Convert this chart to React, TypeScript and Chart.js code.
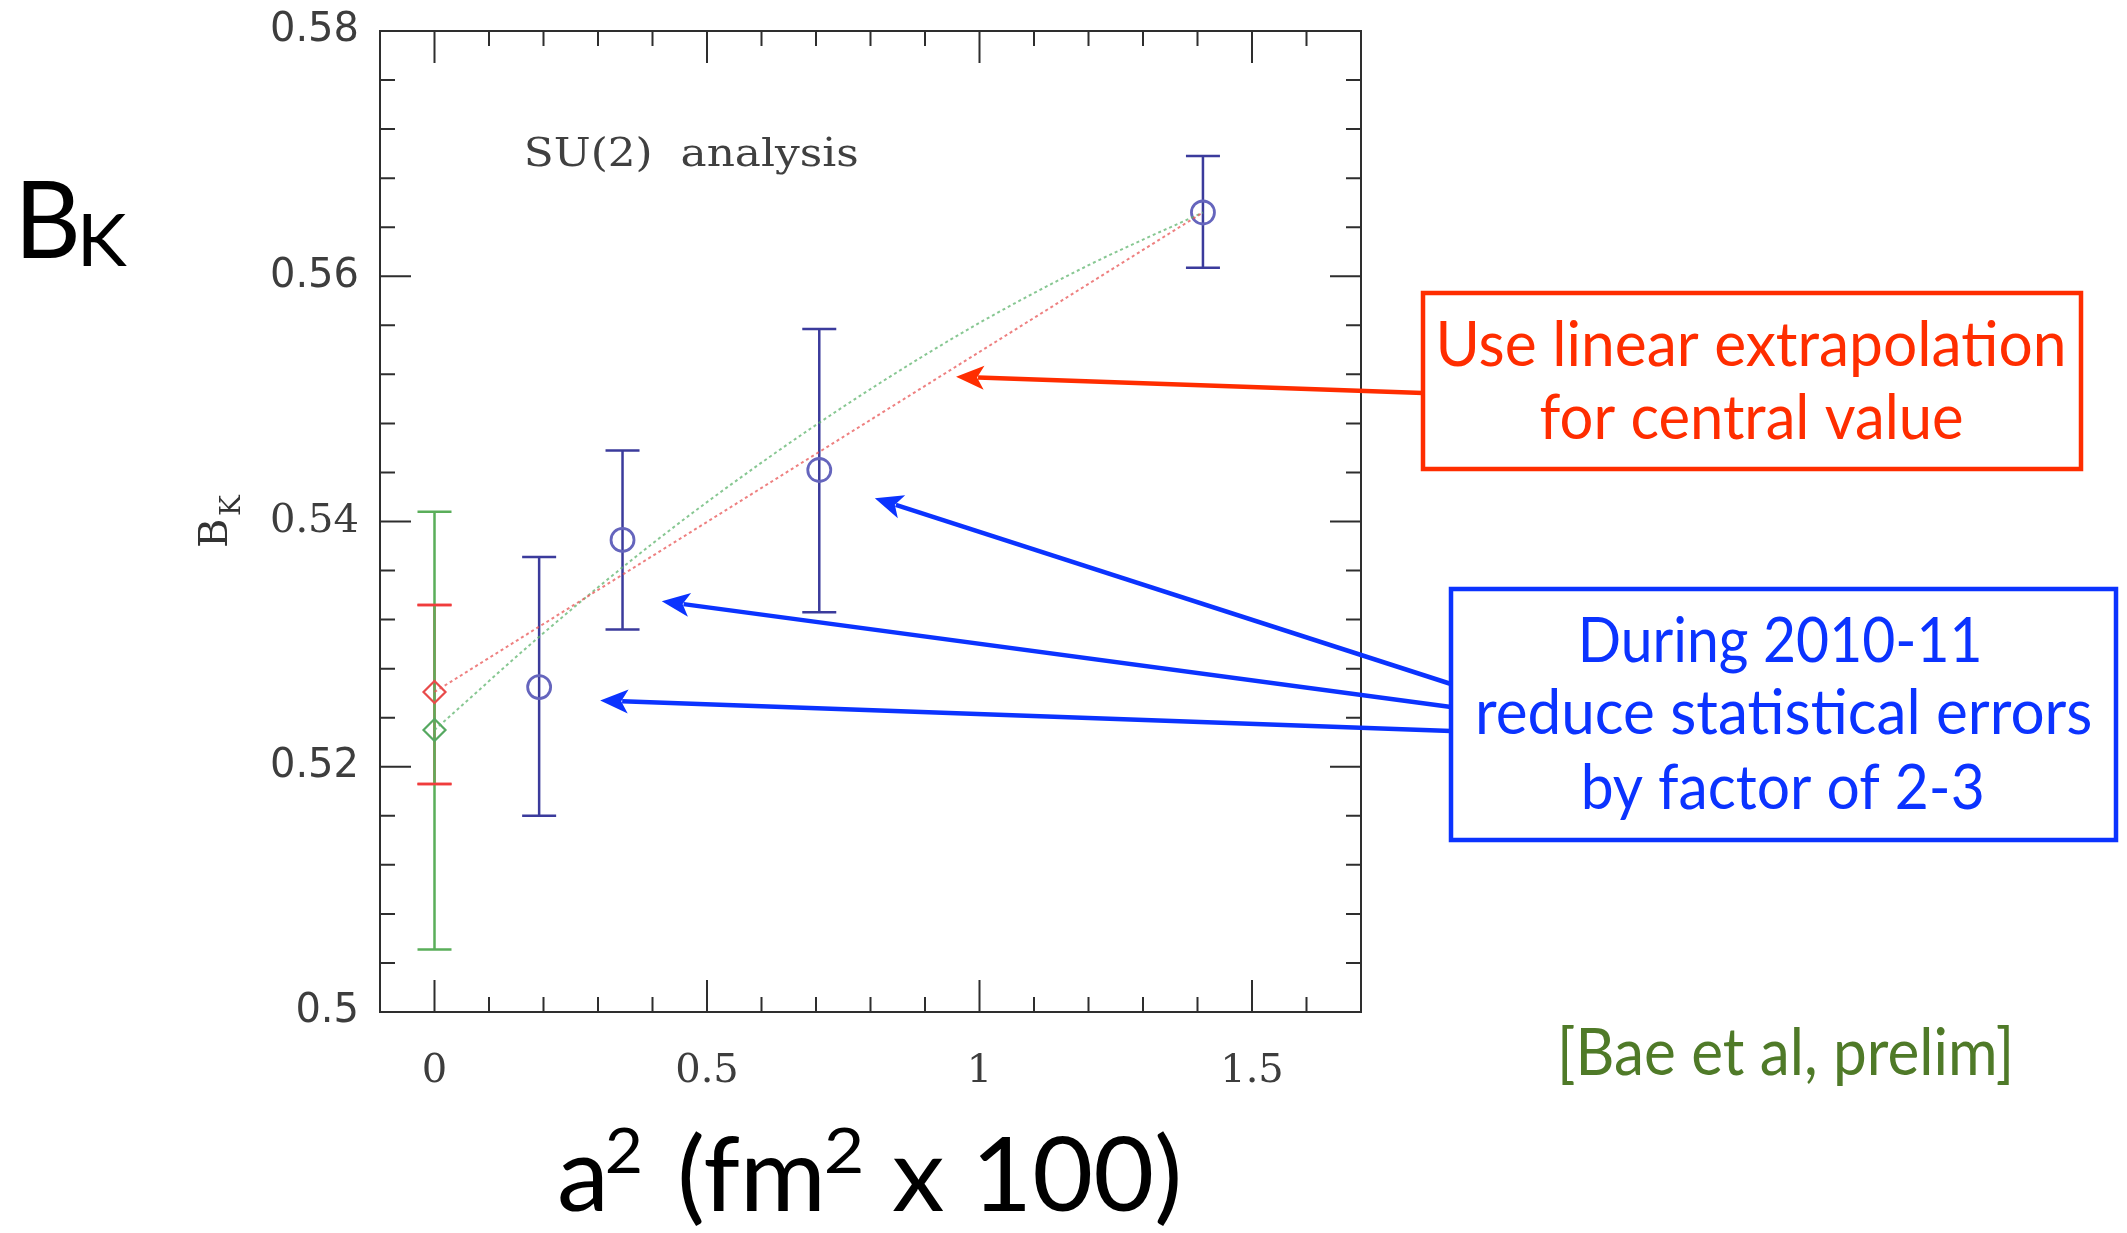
import React, { useEffect, useRef } from 'react';
import { Chart, registerables } from 'chart.js';

Chart.register(...registerables);

const W = 2127;
const H = 1233;

// Lattice data: a^2 (fm^2 x 100) and B_K with error bars
const latticeA2 = [0.192, 0.345, 0.706, 1.41];
const latticeBK = [0.5265, 0.5385, 0.5442, 0.5652];
const latticeBKHigh = [0.5371, 0.5458, 0.5557, 0.5698];
const latticeBKLow = [0.516, 0.5312, 0.5326, 0.5607];

// Linear fit (red) and quadratic fit (green)
const linearFitX = [0, 1.41];
const linearFitY = [0.5261, 0.5652];
const quadFitX = [0, 0.2, 0.4, 0.6, 0.8, 1.0, 1.2, 1.41];
const quadFitY = [0.523, 0.5309, 0.5382, 0.5448, 0.5508, 0.5562, 0.5609, 0.5652];

// Continuum values at a^2 = 0
const contX = [0];
const linearContY = [0.5261];
const linearContHigh = [0.5332];
const linearContLow = [0.5186];
const quadContY = [0.523];
const quadContHigh = [0.5408];
const quadContLow = [0.5051];

// Axis ranges
const xRange = [-0.1, 1.7];
const yRange = [0.5, 0.58];

// Annotation arrow tips (data coordinates)
const redArrowTipX = [0.957];
const redArrowTipY = [0.5518];
const blueArrowTipX = [0.808, 0.417, 0.304];
const blueArrowTipY = [0.5419, 0.5335, 0.5254];

const RED = '#ff2d00';
const BLUE = '#0b33ff';
const GILL = 'Lato, "Open Sans", sans-serif';

function fitText(ctx: CanvasRenderingContext2D, text: string, x: number, baseline: number, width: number, font: string, color: string, align: string = 'center') {
  ctx.save();
  ctx.font = font;
  ctx.fillStyle = color;
  ctx.textBaseline = 'alphabetic';
  ctx.textAlign = 'left';
  const m = ctx.measureText(text);
  const w = m.actualBoundingBoxRight + m.actualBoundingBoxLeft || m.width;
  const s = width / w;
  const left = align === 'center' ? x - width / 2 : align === 'right' ? x - width : x;
  ctx.translate(left, baseline);
  ctx.scale(s, 1);
  ctx.fillText(text, m.actualBoundingBoxLeft || 0, 0);
  ctx.restore();
}

function arrow(ctx: CanvasRenderingContext2D, x1: number, y1: number, x2: number, y2: number, color: string) {
  const ang = Math.atan2(y2 - y1, x2 - x1);
  const headLen = 28;
  const headW = 12;
  const bx = x2 - headLen * Math.cos(ang);
  const by = y2 - headLen * Math.sin(ang);
  const nx = -Math.sin(ang);
  const ny = Math.cos(ang);
  ctx.save();
  ctx.strokeStyle = color;
  ctx.fillStyle = color;
  ctx.lineWidth = 4.5;
  ctx.beginPath();
  ctx.moveTo(x1, y1);
  ctx.lineTo(bx + 6 * Math.cos(ang), by + 6 * Math.sin(ang));
  ctx.stroke();
  ctx.beginPath();
  ctx.moveTo(x2, y2);
  ctx.lineTo(bx + nx * headW, by + ny * headW);
  ctx.lineTo(bx + 7 * Math.cos(ang), by + 7 * Math.sin(ang));
  ctx.lineTo(bx - nx * headW, by - ny * headW);
  ctx.closePath();
  ctx.fill();
  ctx.restore();
}

function errorBar(ctx: CanvasRenderingContext2D, xs: any, ys: any, x: number, lo: number, hi: number, color: string, vertical: boolean = true) {
  const px = xs.getPixelForValue(x);
  const pLo = ys.getPixelForValue(lo);
  const pHi = ys.getPixelForValue(hi);
  ctx.save();
  ctx.strokeStyle = color;
  ctx.lineWidth = 2.5;
  ctx.beginPath();
  if (vertical) {
    ctx.moveTo(px, pLo);
    ctx.lineTo(px, pHi);
  }
  ctx.moveTo(px - 17, pLo);
  ctx.lineTo(px + 17, pLo);
  ctx.moveTo(px - 17, pHi);
  ctx.lineTo(px + 17, pHi);
  ctx.stroke();
  ctx.restore();
}

const decorPlugin = {
  id: 'decor',
  beforeDatasetsDraw(chart: any) {
    const ctx = chart.ctx as CanvasRenderingContext2D;
    const xs = chart.scales.x;
    const ys = chart.scales.y;
    for (let i = 0; i < contX.length; i++) {
      errorBar(ctx, xs, ys, contX[i], linearContLow[i], linearContHigh[i], '#f03c3c');
      errorBar(ctx, xs, ys, contX[i], quadContLow[i], quadContHigh[i], '#5aae5a');
      errorBar(ctx, xs, ys, contX[i], linearContLow[i], linearContHigh[i], '#f03c3c', false);
    }
    for (let i = 0; i < latticeA2.length; i++) {
      errorBar(ctx, xs, ys, latticeA2[i], latticeBKLow[i], latticeBKHigh[i], '#3b3b9c');
    }
  },
  afterDraw(chart: any) {
    const ctx = chart.ctx as CanvasRenderingContext2D;
    const a = chart.chartArea;
    const xs = chart.scales.x;
    const ys = chart.scales.y;

    // frame
    ctx.save();
    ctx.strokeStyle = '#2e2e2e';
    ctx.lineWidth = 2;
    ctx.strokeRect(a.left, a.top, a.right - a.left, a.bottom - a.top);

    // inward ticks on all four sides
    ctx.beginPath();
    for (const t of xs.ticks) {
      const p = xs.getPixelForValue(t.value);
      if (p <= a.left + 1 || p >= a.right - 1) continue;
      const len = t.label !== '' ? 32 : 15;
      ctx.moveTo(p, a.bottom);
      ctx.lineTo(p, a.bottom - len);
      ctx.moveTo(p, a.top);
      ctx.lineTo(p, a.top + len);
    }
    for (const t of ys.ticks) {
      const p = ys.getPixelForValue(t.value);
      if (p <= a.top + 1 || p >= a.bottom - 1) continue;
      const len = t.label !== '' ? 31 : 15;
      ctx.moveTo(a.left, p);
      ctx.lineTo(a.left + len, p);
      ctx.moveTo(a.right, p);
      ctx.lineTo(a.right - len, p);
    }
    ctx.stroke();
    ctx.restore();

    // in-plot label
    fitText(ctx, 'SU(2)  analysis', 527, 166, 330, '40px "DejaVu Serif"', '#404040', 'left');

    // rotated y-axis label B_K
    ctx.save();
    ctx.translate(227, 548);
    ctx.rotate(-Math.PI / 2);
    ctx.fillStyle = '#333';
    ctx.textBaseline = 'alphabetic';
    ctx.textAlign = 'left';
    ctx.font = '40px "DejaVu Serif"';
    ctx.fillText('B', 0, 0);
    ctx.font = '28px "DejaVu Serif"';
    ctx.fillText('K', 32, 13);
    ctx.restore();

    // big B_K at top-left
    fitText(ctx, 'B', 23, 258, 53, `107px ${GILL}`, '#000', 'left');
    fitText(ctx, 'K', 83, 266, 44, `72px ${GILL}`, '#000', 'left');

    // x-axis title a^2 (fm^2 x 100)
    fitText(ctx, 'a', 560, 1211, 43, `102px ${GILL}`, '#000', 'left');
    fitText(ctx, '2', 607, 1173, 33, `62px ${GILL}`, '#000', 'left');
    fitText(ctx, '(fm', 681, 1211, 139, `102px ${GILL}`, '#000', 'left');
    fitText(ctx, '2', 826, 1173, 35, `62px ${GILL}`, '#000', 'left');
    fitText(ctx, 'x 100)', 893, 1211, 285, `102px ${GILL}`, '#000', 'left');

    // red annotation
    ctx.save();
    ctx.strokeStyle = RED;
    ctx.lineWidth = 4.5;
    ctx.strokeRect(1423, 293, 658, 176);
    ctx.restore();
    fitText(ctx, 'Use linear extrapolation', 1752, 366, 623, `61px ${GILL}`, RED);
    fitText(ctx, 'for central value', 1751, 439, 421, `61px ${GILL}`, RED);
    for (let i = 0; i < redArrowTipX.length; i++) {
      arrow(ctx, 1423, 393, xs.getPixelForValue(redArrowTipX[i]), ys.getPixelForValue(redArrowTipY[i]), RED);
    }

    // blue annotation
    ctx.save();
    ctx.strokeStyle = BLUE;
    ctx.lineWidth = 4.5;
    ctx.strokeRect(1451, 589, 665, 251);
    ctx.restore();
    fitText(ctx, 'During 2010-11', 1781, 662, 397, `61px ${GILL}`, BLUE);
    fitText(ctx, 'reduce statistical errors', 1785, 734, 612, `61px ${GILL}`, BLUE);
    fitText(ctx, 'by factor of 2-3', 1783, 809, 397, `61px ${GILL}`, BLUE);
    const tailsY = [684, 707, 731];
    for (let i = 0; i < blueArrowTipX.length; i++) {
      arrow(ctx, 1451, tailsY[i], xs.getPixelForValue(blueArrowTipX[i]), ys.getPixelForValue(blueArrowTipY[i]), BLUE);
    }

    // citation
    fitText(ctx, '[Bae et al, prelim]', 1786, 1075, 447, `66px ${GILL}`, '#4f7a28');
  },
};

export default function App() {
  const ref = useRef<HTMLCanvasElement | null>(null);

  useEffect(() => {
    if (!ref.current) return;
    const chart = new Chart(ref.current, {
      type: 'scatter',
      data: {
        datasets: [
          {
            label: 'Linear fit',
            data: linearFitX.map((x, i) => ({ x, y: linearFitY[i] })),
            showLine: true,
            borderColor: 'rgba(232,85,85,0.75)',
            borderWidth: 2,
            borderDash: [3, 3],
            pointRadius: 0,
          },
          {
            label: 'Quadratic fit',
            data: quadFitX.map((x, i) => ({ x, y: quadFitY[i] })),
            showLine: true,
            cubicInterpolationMode: 'monotone',
            borderColor: 'rgba(95,180,110,0.75)',
            borderWidth: 2,
            borderDash: [3, 3],
            pointRadius: 0,
          },
          {
            label: 'Linear continuum',
            data: contX.map((x, i) => ({ x, y: linearContY[i] })),
            pointStyle: 'rectRot',
            pointRadius: 11,
            borderColor: '#e84a4a',
            backgroundColor: 'rgba(0,0,0,0)',
            borderWidth: 2.2,
          },
          {
            label: 'Quadratic continuum',
            data: contX.map((x, i) => ({ x, y: quadContY[i] })),
            pointStyle: 'rectRot',
            pointRadius: 11,
            borderColor: '#55a860',
            backgroundColor: 'rgba(0,0,0,0)',
            borderWidth: 2.2,
          },
          {
            label: 'Lattice',
            data: latticeA2.map((x, i) => ({ x, y: latticeBK[i] })),
            pointStyle: 'circle',
            pointRadius: 11.5,
            borderColor: '#6565bd',
            backgroundColor: 'rgba(0,0,0,0)',
            borderWidth: 2.8,
          },
        ],
      },
      options: {
        responsive: false,
        maintainAspectRatio: false,
        devicePixelRatio: 1,
        animation: false,
        layout: { padding: { left: 180, right: 766, top: 31, bottom: 121 } },
        plugins: { legend: { display: false }, tooltip: { enabled: false } },
        scales: {
          x: {
            type: 'linear',
            min: xRange[0],
            max: xRange[1],
            grid: { display: false, drawTicks: false },
            border: { display: false },
            afterFit: (s: any) => { s.height = 100; s.paddingLeft = 0; s.paddingRight = 0; },
            ticks: {
              stepSize: 0.1,
              autoSkip: false,
              maxRotation: 0,
              minRotation: 0,
              padding: 36,
              color: '#3d3d3d',
              font: { family: '"DejaVu Serif"', size: 40 },
              callback: (v: any) => {
                const k = Math.round(Number(v) * 10);
                return k >= 0 && k % 5 === 0 ? String(k / 10) : '';
              },
            },
          },
          y: {
            type: 'linear',
            min: yRange[0],
            max: yRange[1],
            grid: { display: false, drawTicks: false },
            border: { display: false },
            afterFit: (s: any) => { s.width = 200; s.paddingTop = 0; s.paddingBottom = 0; },
            ticks: {
              stepSize: 0.004,
              autoSkip: false,
              padding: 21,
              color: '#3d3d3d',
              font: (c: any) => {
                const v = c.tick ? c.tick.value : 0;
                const serif = Math.abs(v - 0.54) < 1e-6;
                return { family: serif ? '"DejaVu Serif"' : '"DejaVu Sans"', size: 40 };
              },
              callback: (v: any) => {
                const k = Math.round(Number(v) * 1000);
                return k % 20 === 0 ? String(k / 1000) : '';
              },
            },
          },
        },
      },
      plugins: [decorPlugin],
    } as any);
    return () => chart.destroy();
  }, []);

  return (
    <div style={{ position: 'fixed', left: 0, top: 0, width: W, height: H, background: '#fff' }}>
      <canvas ref={ref} width={W} height={H} style={{ display: 'block', width: W, height: H }} />
    </div>
  );
}
